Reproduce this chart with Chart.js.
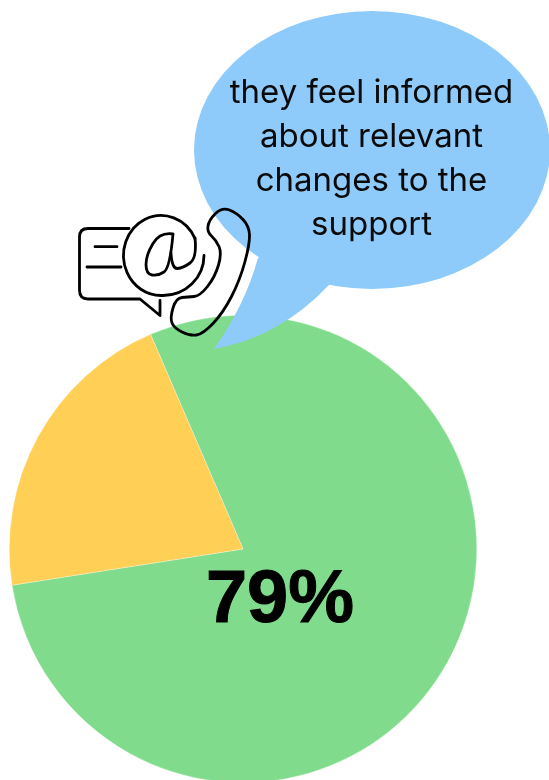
<!DOCTYPE html>
<html>
<head>
<meta charset="utf-8">
<title>Support survey</title>
<script src="https://cdn.jsdelivr.net/npm/chart.js@4"></script>
<style>
    html, body { margin: 0; padding: 0; background: #fff; overflow: hidden; height: 780px; }
    canvas { display: block; }
</style>
</head>
<body>
<canvas id="informed-chart" width="549" height="800"></canvas>
<script>
const categories = ['Feel informed', 'Do not feel informed'];
const values = [79, 21];
const colors = ['#80dc8c', '#ffcf56'];
const bigLabel = '79%';
const bubbleLines = ['they feel informed', 'about relevant', 'changes to the', 'support'];

// smooth line through a list of points, using midpoints as anchors
const smoothPath = (ctx, pts, closed) => {
    ctx.beginPath();
    if (closed) {
        const last = pts[pts.length - 1];
        ctx.moveTo((last[0] + pts[0][0]) / 2, (last[1] + pts[0][1]) / 2);
        pts.forEach((p, i) => {
            const next = pts[(i + 1) % pts.length];
            ctx.quadraticCurveTo(p[0], p[1], (p[0] + next[0]) / 2, (p[1] + next[1]) / 2);
        });
        ctx.closePath();
    } else {
        ctx.moveTo(pts[0][0], pts[0][1]);
        for (let i = 1; i < pts.length - 1; i++) {
            const next = pts[i + 1];
            const isEnd = i === pts.length - 2;
            ctx.quadraticCurveTo(pts[i][0], pts[i][1],
                isEnd ? next[0] : (pts[i][0] + next[0]) / 2,
                isEnd ? next[1] : (pts[i][1] + next[1]) / 2);
        }
    }
    ctx.stroke();
};

const drawBubble = (ctx) => {
    ctx.fillStyle = '#8ecafa';
    ctx.beginPath();
    ctx.ellipse(372, 150, 178, 139, 0, 0, Math.PI * 2);
    ctx.fill();
    ctx.beginPath();
    ctx.moveTo(258, 258);
    ctx.quadraticCurveTo(245, 305, 214, 349);
    ctx.quadraticCurveTo(280, 337, 329, 285);
    ctx.lineTo(372, 200);
    ctx.closePath();
    ctx.fill();

    ctx.fillStyle = '#0a0a0a';
    ctx.font = '400 33px Inter, "Noto Sans", sans-serif';
    ctx.textAlign = 'center';
    ctx.textBaseline = 'alphabetic';
    bubbleLines.forEach((line, i) => ctx.fillText(line, 371.5, 103 + i * 44));
};

const drawIcon = (ctx) => {
    ctx.strokeStyle = '#000';
    ctx.lineWidth = 2.8;
    ctx.lineCap = 'round';
    ctx.lineJoin = 'round';

    // message box
    ctx.beginPath();
    ctx.moveTo(129, 228.5);
    ctx.lineTo(88, 228.5);
    ctx.quadraticCurveTo(79.5, 228.5, 79.5, 237);
    ctx.lineTo(79.5, 290);
    ctx.quadraticCurveTo(79.5, 299, 88, 299);
    ctx.lineTo(140, 299);
    ctx.lineTo(160, 315.5);
    ctx.lineTo(160, 300.5);
    ctx.moveTo(95, 246.7);
    ctx.lineTo(117, 246.7);
    ctx.moveTo(87, 267);
    ctx.lineTo(121, 267);
    ctx.stroke();

    // at sign: bowl, tail, then the ring
    smoothPath(ctx, [[173, 234], [160, 232], [146, 255], [146, 274], [158, 276], [170, 268], [173, 234]], false);
    smoothPath(ctx, [[171, 253], [172, 269], [183, 268], [197, 258], [195, 238]], false);
    ctx.beginPath();
    ctx.ellipse(161, 255.5, 37.5, 40, 0, -25 * Math.PI / 180, -270 * Math.PI / 180, true);
    ctx.ellipse(163, 255.5, 41, 40, 0, Math.PI / 2, 0, true);
    ctx.stroke();

    // handset
    smoothPath(ctx, [[222, 207], [237, 213], [249, 226], [250, 243], [240, 280], [223, 313], [203, 334], [190, 336], [174, 328], [170, 318], [176, 298], [188, 297], [200, 296], [215, 277], [222, 253], [216, 240], [207, 232], [209, 220]], true);
};

const overlayPlugin = {
    id: 'overlay',
    afterDatasetsDraw(chart) {
        const ctx = chart.ctx;
        ctx.save();
        drawBubble(ctx);
        drawIcon(ctx);
        ctx.fillStyle = '#000';
        ctx.font = '700 74px "Liberation Sans", sans-serif';
        ctx.textAlign = 'center';
        ctx.textBaseline = 'alphabetic';
        ctx.fillText(bigLabel, 280, 622);
        // the label is a little heavier than the font's bold
        ctx.lineWidth = 1;
        ctx.lineJoin = 'miter';
        ctx.strokeText(bigLabel, 280, 622);
        ctx.restore();
    }
};

const pieChart = () => {
    const data = {
        labels: categories,
        datasets: [{
            data: values,
            backgroundColor: colors,
            borderColor: 'rgba(255, 255, 255, 0.6)',
            borderWidth: 0.5
        }]
    };

    const config = {
        type: 'pie',
        data: data,
        options: {
            responsive: false,
            animation: false,
            rotation: -23.3,
            layout: {
                padding: { left: 9, right: 72, top: 315, bottom: 17 }
            },
            plugins: {
                legend: { display: false },
                title: { display: false },
                tooltip: { enabled: false }
            }
        },
        plugins: [overlayPlugin]
    };
    const ctx = document.getElementById('informed-chart').getContext('2d');
    new Chart(ctx, config);
};

document.addEventListener('DOMContentLoaded', () => {
    pieChart();
});
</script>
</body>
</html>
